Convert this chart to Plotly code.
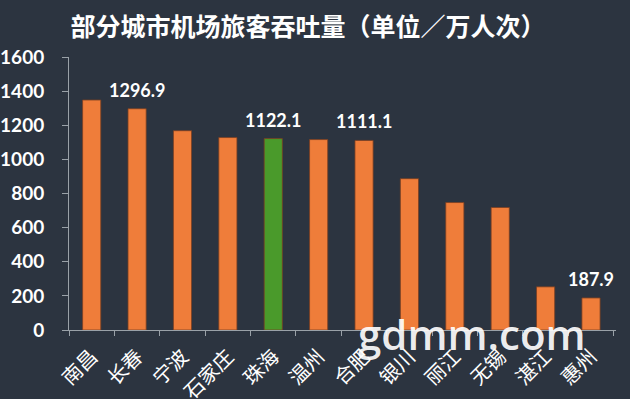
import plotly.graph_objects as go

cities = ["南昌", "长春", "宁波", "石家庄", "珠海", "温州", "合肥", "银川", "丽江", "无锡", "湛江", "惠州"]
values = [1348, 1296.9, 1168, 1128, 1122.1, 1116, 1111.1, 887, 747, 718, 253, 187.9]
labeled = ["长春", "珠海", "合肥", "惠州"]
highlight = "珠海"
y_ticks = [0, 200, 400, 600, 800, 1000, 1200, 1400, 1600]

BG = "#2c3440"
ORANGE = "#ef7d3a"
GREEN = "#4a9a2b"
AXIS = "#9aa1a8"

colors = [GREEN if c == highlight else ORANGE for c in cities]

fig = go.Figure()
fig.add_trace(go.Bar(
    x=cities, y=values, width=0.4,
    marker=dict(color=colors, line=dict(color="#7a3f22", width=0.8)),
    hoverinfo="x+y",
))

for c, v in zip(cities, values):
    if c in labeled:
        fig.add_annotation(
            x=c, y=v, text=f"{v:.1f}", showarrow=False,
            yanchor="bottom", yshift=6,
            font=dict(family="Lato, sans-serif", size=18, color="white", weight="bold"),
        )

fig.add_annotation(
    xref="paper", yref="paper", x=0.737, y=-0.012, text="gdmm.com",
    showarrow=False, xanchor="center", yanchor="middle",
    font=dict(family="Open Sans, sans-serif", size=42, color="rgba(255,255,255,0.93)", weight=600),
)

fig.update_layout(
    width=630, height=399,
    paper_bgcolor=BG, plot_bgcolor=BG,
    margin=dict(l=69, r=14, t=57, b=69, autoexpand=False),
    showlegend=False,
    title=dict(
        text="部分城市机场旅客吞吐量（单位／万人次）",
        x=0.489, xanchor="center", y=0.932, yanchor="middle",
        font=dict(family="Noto Sans CJK SC", size=25, color="white", weight="bold"),
    ),
    xaxis=dict(
        automargin=False,
        showline=True, linecolor=AXIS, linewidth=1,
        ticks="outside", tickson="boundaries", ticklen=5, tickcolor=AXIS,
        tickangle=-45, showgrid=False,
        ticklabelstandoff=6,
        tickfont=dict(family="Noto Sans CJK SC", size=20, color="white"),
    ),
    yaxis=dict(
        automargin=False,
        range=[0, 1600], tickvals=y_ticks,
        showline=True, linecolor=AXIS, linewidth=1,
        ticks="outside", ticklen=6, tickcolor=AXIS,
        showgrid=False, zeroline=False,
        ticklabelstandoff=14,
        tickfont=dict(family="Lato, sans-serif", size=19, color="white", weight="bold"),
    ),
)

fig.write_html(
    "out.html",
    config={"displayModeBar": False},
    post_script="document.body.style.margin='0';document.body.style.background='" + BG + "';",
)
